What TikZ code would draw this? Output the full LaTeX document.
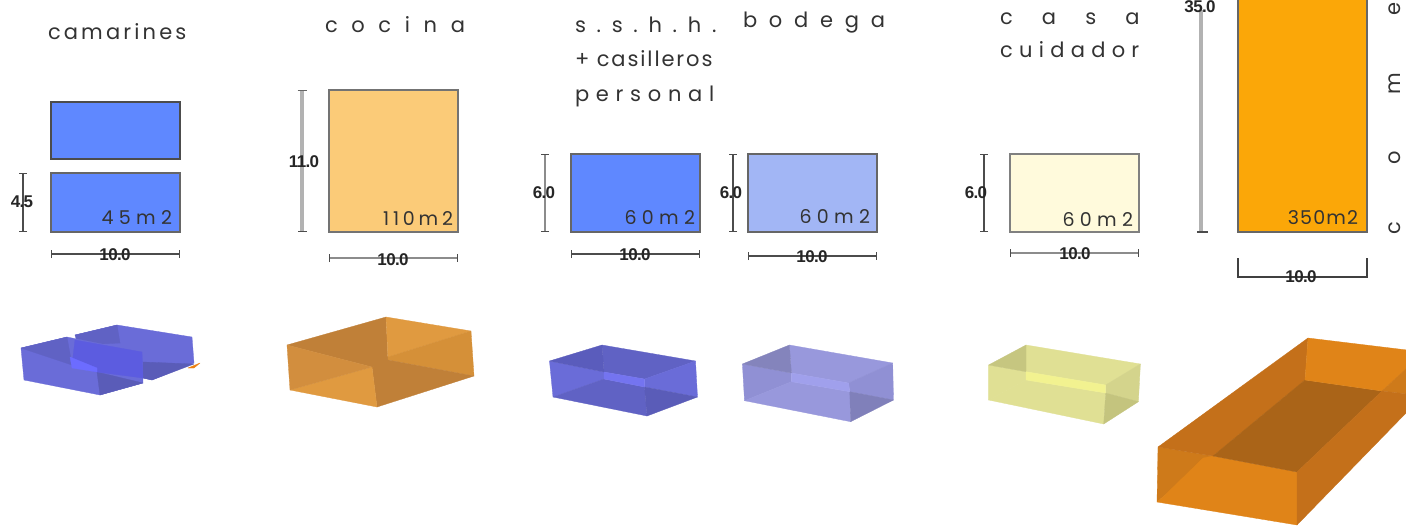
\documentclass[tikz,border=0pt]{standalone}
\usepackage{fontspec}
\usetikzlibrary{arrows.meta,calc}
\setmainfont{Poppins}
\newfontfamily\dimfont{Liberation Sans Bold}
\definecolor{txt}{HTML}{333333}
\newcommand{\ls}[1]{\addfontfeature{LetterSpace=#1}}
\tikzset{
  x=1pt,y=-1pt,
  room/.style={draw=#1,line width=1.8pt,inner sep=0pt,outer sep=0pt,anchor=north west,minimum width=129pt},
  title/.style={anchor=base west,inner sep=0pt,outer sep=0pt,text=txt,font=\fontsize{21}{21}\selectfont},
  area/.style={anchor=base east,inner sep=0pt,outer sep=0pt,text=txt,font=\fontsize{19}{19}\selectfont},
  dimtext/.style={inner sep=0pt,text=black!85,font=\dimfont\fontsize{17}{17}\selectfont\addfontfeature{LetterSpace=-4}},
  dimdark/.style={draw=black!70,line width=1.3pt,{Bar[width=8pt,line width=1.3pt]}-{Bar[width=8pt,line width=1.3pt]}},
  dimlight/.style={draw=black!30,line width=3.2pt,{Bar[width=9pt,line width=1.3pt,black!60]}-{Bar[width=9pt,line width=1.3pt,black!70]}},
  dimmid/.style={draw=black!45,line width=2.2pt,{Bar[width=8pt,line width=1.3pt,black!70]}-{Bar[width=8pt,line width=1.3pt,black!70]}},
  face/.style={fill=#1,draw=#1,line width=.3pt,line join=round},
}
% coordinates <prefix>TL,TB,TR,BR,BF,BL,S1..S4 must exist
\newcommand{\glassbox}[8]{%
  \path[face=#4] (#1TL)--(#1S1)--(#1S4)--(#1BL)--cycle;
  \path[face=#3] (#1TB)--(#1TR)--(#1S2)--(#1S1)--cycle;
  \path[face=#2] (#1TL)--(#1TB)--(#1S1)--cycle;
  \path[face=#5] (#1TR)--(#1BR)--(#1S3)--(#1S2)--cycle;
  \path[face=#6] (#1BL)--(#1S4)--(#1S3)--(#1BF)--cycle;
  \path[face=#7] (#1S3)--(#1BR)--(#1BF)--cycle;
  \path[face=#8] (#1S1)--(#1S2)--(#1S3)--(#1S4)--cycle;
}
\definecolor{c5A5CBC}{HTML}{5A5CBC}\definecolor{c6062C4}{HTML}{6062C4}\definecolor{c6A6CD8}{HTML}{6A6CD8}
\definecolor{c7878F8}{HTML}{7474F0}\definecolor{c5A5CB8}{HTML}{5A5CB8}
\definecolor{c8484BC}{HTML}{8484BC}\definecolor{c9898DC}{HTML}{9898DC}\definecolor{c9090D4}{HTML}{9090D4}
\definecolor{c8080BA}{HTML}{8080BA}\definecolor{cA0A0F0}{HTML}{A0A0EC}
\definecolor{cC6C680}{HTML}{C6C680}\definecolor{cE0E094}{HTML}{E0E094}\definecolor{cD4D48C}{HTML}{D4D48C}
\definecolor{cF6F690}{HTML}{F2F290}\definecolor{cC4C47E}{HTML}{C4C47E}
\definecolor{oA}{HTML}{C08038}\definecolor{oB}{HTML}{E09A40}\definecolor{oC}{HTML}{D59038}\definecolor{oD}{HTML}{D28E3E}
\definecolor{gA}{HTML}{C4701A}\definecolor{gB}{HTML}{E08418}\definecolor{gC}{HTML}{CE7A1A}\definecolor{gD}{HTML}{AA6418}
\definecolor{roomblue}{HTML}{5F88FF}\definecolor{roomlight}{HTML}{A2B6F5}\definecolor{roomcream}{HTML}{FFFADC}
\definecolor{roompeach}{HTML}{FBCB78}\definecolor{roomorange}{HTML}{FBA708}
\definecolor{ovA}{HTML}{5C5CE0}\definecolor{ovB}{HTML}{6C6CFF}
\begin{document}
\begin{tikzpicture}
\clip (0,0) rectangle (1406,525);
\fill[white] (0,0) rectangle (1406,525);

% titles
\node[title] (tcam) at (48,39) {\ls{15}camarines};
\node[title] (tcoc) at (325,32) {\ls{65}cocina};
\node[title] (tssh) at (575,32) {\ls{51}s.s.h.h.};
\node[title] (tcas) at (575,66) {\ls{9}+ casilleros};
\node[title] (tper) at (575,101) {\ls{32}personal};
\node[title] (tbod) at (743,27) {\ls{56}bodega};
\node[title] (tcasa) at (1000,24) {\ls{139}casa};
\node[title] (tcui) at (1000,57) {\ls{30}cuidador};
\node[title,rotate=90] (tcom) at (1400,234) {\ls{271}come};

% rooms
\node[room=black!70,fill=roomblue,minimum height=57pt] (r1a) at (51,102) {};
\node[room=black!60,fill=roomblue,minimum height=59pt] (r1b) at (51,173) {};
\node[room=black!55,fill=roompeach,minimum height=142pt] (r2) at (329,90) {};
\node[room=black!60,fill=roomblue,minimum height=78pt] (r3) at (571,154) {};
\node[room=black!60,fill=roomlight,minimum height=78pt] (r4) at (748,154) {};
\node[room=black!50,fill=roomcream,minimum height=78pt,line width=2.2pt] (r5) at (1010,154) {};
\node[room=black!60,fill=roomorange,minimum height=252pt] (r6) at (1238,-20) {};

% areas
\node[area] (a1) at (172,224) {\ls{28}45m2};
\node[area] (a2) at (453,225) {\ls{20}110m2};
\node[area] (a3) at (695,224) {\ls{28}60m2};
\node[area] (a4) at (870,223) {\ls{28}60m2};
\node[area] (a5) at (1133,226) {\ls{28}60m2};
\node[area] (a6) at (1358,224) {\ls{6}350m2};

% dimension ends
\coordinate (v1a) at (23,173); \coordinate (v1b) at (23,232);
\coordinate (h1a) at (51,254); \coordinate (h1b) at (180,254);
\coordinate (v2a) at (302,90); \coordinate (v2b) at (302,232);
\coordinate (h2a) at (329,258); \coordinate (h2b) at (458,258);
\coordinate (v3a) at (545,154); \coordinate (v3b) at (545,232);
\coordinate (h3a) at (571,254); \coordinate (h3b) at (700,254);
\coordinate (v4a) at (733,154); \coordinate (v4b) at (733,232);
\coordinate (h4a) at (748,256); \coordinate (h4b) at (877,256);
\coordinate (v5a) at (984,154); \coordinate (v5b) at (984,232);
\coordinate (h5a) at (1010,253); \coordinate (h5b) at (1139,253);
\coordinate (v6a) at (1201,10); \coordinate (v6b) at (1201,232);
\coordinate (h6a) at (1238,277); \coordinate (h6b) at (1367,277);
\coordinate (h6c) at (1238,258); \coordinate (h6d) at (1367,258);

\draw[dimdark] (v1a)--(v1b);
\draw[dimdark] (h1a)--(h1b);
\draw[dimlight] (v2a)--(v2b);
\draw[dimmid] (h2a)--(h2b);
\draw[dimmid] (v3a)--(v3b);
\draw[dimdark] (h3a)--(h3b);
\draw[dimdark] (v4a)--(v4b);
\draw[dimdark] (h4a)--(h4b);
\draw[dimdark] (v5a)--(v5b);
\draw[dimmid] (h5a)--(h5b);
\draw[draw=black!30,line width=3.4pt] (v6a)--(v6b);
\draw[draw=black!70,line width=1.3pt] ($(v6b)+(-4,0)$) -- ($(v6b)+(7,0)$);
\draw[draw=black!75,line width=1.3pt] (h6c)--(h6a)--(h6b)--(h6d);

\node[dimtext] (d1v) at (22,202) {4.5};
\node[dimtext] (d1h) at (115,255) {10.0};
\node[dimtext] (d2v) at (304,162) {11.0};
\node[dimtext] (d2h) at (393,260) {10.0};
\node[dimtext] (d3v) at (544,193) {6.0};
\node[dimtext] (d3h) at (635,255) {10.0};
\node[dimtext] (d4v) at (731,193) {6.0};
\node[dimtext] (d4h) at (812,257) {10.0};
\node[dimtext] (d5v) at (976,193) {6.0};
\node[dimtext] (d5h) at (1075,254) {10.0};
\node[dimtext] (d6v) at (1200,7) {35.0};
\node[dimtext] (d6h) at (1301,277) {10.0};

% camarines volume
\path[face=orange!70!brown] (188,368)--(200,363)--(194,368)--cycle;
\path[face=c6A6CD8] (75,335)--(117,325)--(192,337)--(194,363)--(152,380)--(143,378)--(120,370)--cycle;
\path[face=c6062C4] (75,335)--(117,325)--(120,343)--(78,345)--cycle;
\path[face=c5A5CB8] (152,380)--(194,364)--(143,362)--(143,378)--cycle;
\path[face=c6A6CD8] (21,348)--(67,337)--(142,352)--(143,383)--(100,395)--(24,380)--cycle;
\path[face=c6062C4] (21,348)--(67,337)--(72,365)--cycle;
\path[face=c5A5CB8] (97,372)--(143,383)--(100,395)--cycle;
\path[face=ovA] (75,340)--(142,352)--(143,378)--(97,372)--(72,365)--cycle;
\path[face=ovB] (70,357)--(97,368)--(97,372)--(72,368)--cycle;

% cocina volume
\path[face=oA] (287,345)--(386,317)--(388,362)--(372,367)--cycle;
\path[face=oB] (386,317)--(471,331)--(388,357)--cycle;
\path[face=oC] (471,331)--(474,376)--(388,360)--(388,357)--cycle;
\path[face=oA] (388,360)--(474,376)--(377,407)--(372,367)--cycle;
\path[face=oB] (290,390)--(372,367)--(377,407)--cycle;
\path[face=oD] (287,345)--(372,367)--(290,390)--cycle;

% s.s.h.h. volume
\coordinate (aTL) at (549.5,361); \coordinate (aTB) at (602,345); \coordinate (aTR) at (695.5,361);
\coordinate (aBR) at (697.5,397); \coordinate (aBF) at (647,416); \coordinate (aBL) at (553,397);
\coordinate (aS1) at (604,372); \coordinate (aS2) at (644.5,379); \coordinate (aS3) at (644.5,387); \coordinate (aS4) at (604,379);
\glassbox{a}{c5A5CBC}{c6062C4}{c6A6CD8}{c6A6CD8}{c6062C4}{c5A5CB8}{c7878F8}

% bodega volume
\coordinate (bTL) at (742.4,364); \coordinate (bTB) at (789.4,345); \coordinate (bTR) at (892.7,363);
\coordinate (bBR) at (893.5,400); \coordinate (bBF) at (850.6,421.7); \coordinate (bBL) at (744.5,400.7);
\coordinate (bS1) at (791.4,373); \coordinate (bS2) at (848.6,383); \coordinate (bS3) at (849.8,391.7); \coordinate (bS4) at (791.4,381.7);
\glassbox{b}{c8484BC}{c9898DC}{c9090D4}{c9090D4}{c9898DC}{c8080BA}{cA0A0F0}

% casa cuidador volume
\coordinate (cTL) at (988.6,365); \coordinate (cTB) at (1026,345); \coordinate (cTR) at (1140.4,364);
\coordinate (cBR) at (1138.4,401.7); \coordinate (cBF) at (1103.7,424); \coordinate (cBL) at (988.6,400);
\coordinate (cS1) at (1026,371.7); \coordinate (cS2) at (1105.7,385); \coordinate (cS3) at (1105.7,393); \coordinate (cS4) at (1026,380);
\glassbox{c}{cC6C680}{cE0E094}{cE0E094}{cD4D48C}{cE0E094}{cC4C47E}{cF6F690}

% comedor volume
\path[face=gC] (1158,447)--(1213,456)--(1165,495)--(1157,502)--cycle;
\path[face=gB] (1213,456)--(1297,472)--(1297,525)--(1157,502)--(1165,495)--(1203,458)--cycle;
\path[face=gA] (1158,447)--(1308,338)--(1305,380)--(1213,456)--cycle;
\path[face=gD] (1213,456)--(1305,380)--(1382,391)--(1297,472)--cycle;
\path[face=gB] (1308,338)--(1407,350)--(1407,368)--(1382,391)--(1305,380)--cycle;
\path[face=gC] (1382,391)--(1407,368)--(1407,394)--cycle;
\path[face=gA] (1297,472)--(1382,391)--(1407,394)--(1407,412)--(1297,525)--cycle;
\end{tikzpicture}
\end{document}
